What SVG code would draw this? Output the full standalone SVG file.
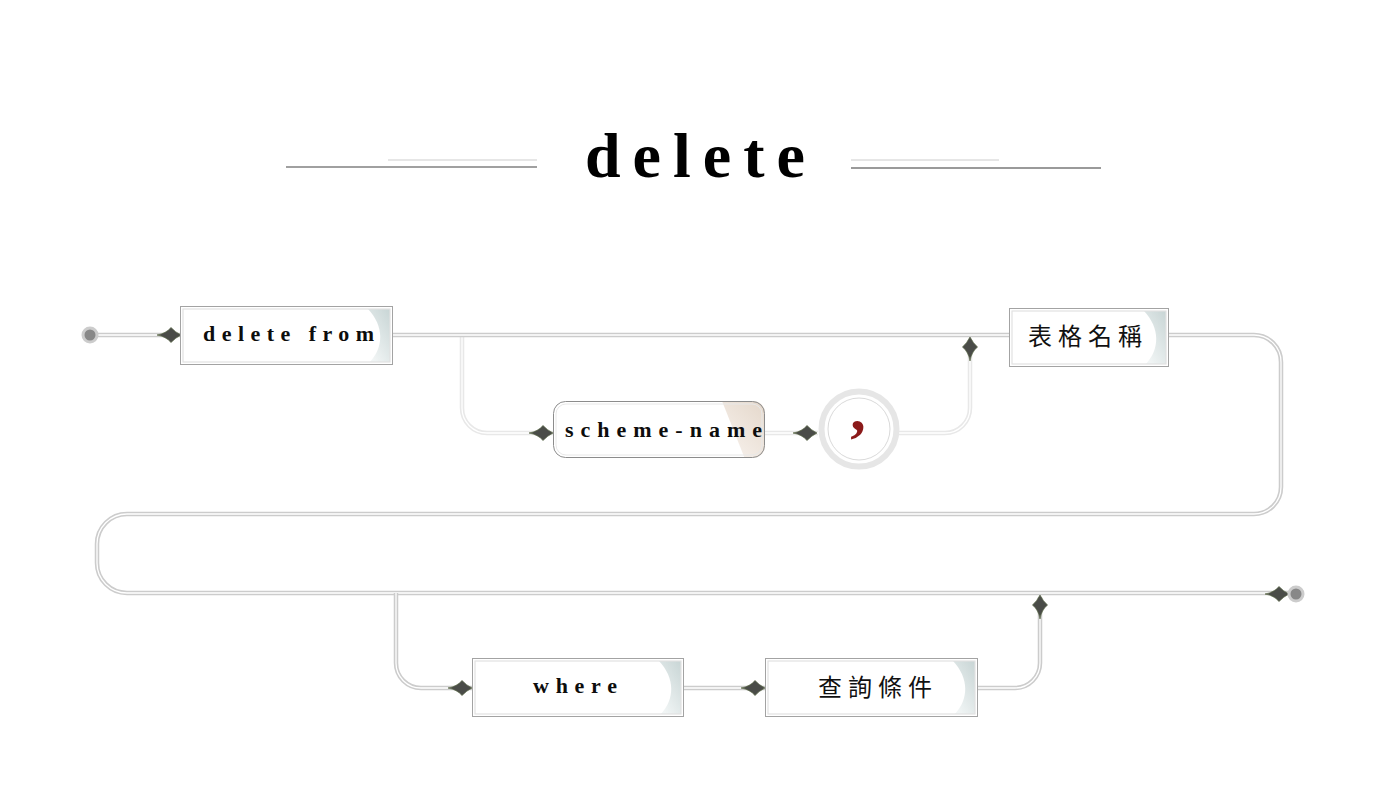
<svg xmlns="http://www.w3.org/2000/svg" xmlns:xlink="http://www.w3.org/1999/xlink" width="1388" height="801" viewBox="0 0 1388 801">
<style>
.trk{fill:none;stroke:#cccccc;stroke-width:4.5}
.trk2{fill:none;stroke:#e8e8e8;stroke-width:4.5}
.trkin{fill:none;stroke:#ffffff;stroke-width:1.3}
.box{fill:#ffffff;stroke:#a3a3a3;stroke-width:1}
.inner{fill:none;stroke:#e2e2e2;stroke-width:1.2}
.lbl{font-family:"Liberation Serif","Times New Roman",serif;font-weight:bold;font-size:22px;fill:#0d0d0d}
.cjk{font-family:"Noto Sans CJK TC","Noto Sans CJK SC",sans-serif;font-size:24px;fill:#111111}
.arr{fill:#4a4c48;stroke:#5c6a48;stroke-width:0.7}
.dot{fill:#888888;stroke:#cccccc;stroke-width:3}
</style>
<defs>
<linearGradient id="gBlue" x1="1" y1="0" x2="0.3" y2="1">
<stop offset="0" stop-color="#c8d5d5"/>
<stop offset="1" stop-color="#f1f5f5"/>
</linearGradient>
<linearGradient id="gBeige" x1="1" y1="0" x2="0.2" y2="1">
<stop offset="0" stop-color="#e4d7ca"/>
<stop offset="1" stop-color="#f7f1ec"/>
</linearGradient>
<path id="arr" d="M-24,0 Q-15,-1.5 -10,-7.5 Q-6,-3 0,0 Q-6,3 -10,7.5 Q-15,1.5 -24,0 Z"/>
<path id="pMain" d="M98,335 H180 M392,335 H1009 M1168,335 H1254 A27,27 0 0 1 1281,362 V487 A27,27 0 0 1 1254,514 H127 A30,30 0 0 0 97,544 V563 A30,30 0 0 0 127,593 H1288"/>
<path id="pUp" d="M462,335 V408 A25,25 0 0 0 487,433 H553 M765,433 H818 M899,433 H945 A25,25 0 0 0 970,408 V340"/>
<path id="pLow" d="M396,593 V663 A25,25 0 0 0 421,688 H472 M683,688 H765 M977,688 H1015 A25,25 0 0 0 1040,663 V597"/>
<clipPath id="cScheme"><rect x="553" y="401" width="212" height="57" rx="12"/></clipPath>
</defs>

<g id="title">
<line x1="286" y1="167" x2="537" y2="167" stroke="#a0a0a0" stroke-width="2"/>
<line x1="388" y1="160" x2="537" y2="160" stroke="#e6e6e6" stroke-width="2"/>
<line x1="851" y1="168" x2="1101" y2="168" stroke="#9a9a9a" stroke-width="2"/>
<line x1="851" y1="160" x2="999" y2="160" stroke="#cccccc" stroke-width="1"/>
<text x="585" y="177" font-family="Liberation Serif, Times New Roman, serif" font-weight="bold" font-size="64" fill="#000000" textLength="220" lengthAdjust="spacing">delete</text>
</g>

<g id="connectors">
<use xlink:href="#pUp" class="trk2"/>
<use xlink:href="#pUp" class="trkin"/>
<use xlink:href="#pMain" class="trk"/>
<use xlink:href="#pMain" class="trkin"/>
<use xlink:href="#pLow" class="trk"/>
<use xlink:href="#pLow" class="trkin"/>
<use xlink:href="#arr" class="arr" transform="translate(181,335)"/>
<use xlink:href="#arr" class="arr" transform="translate(553,433)"/>
<use xlink:href="#arr" class="arr" transform="translate(817,433)"/>
<use xlink:href="#arr" class="arr" transform="translate(970,337) rotate(-90)"/>
<use xlink:href="#arr" class="arr" transform="translate(472,688)"/>
<use xlink:href="#arr" class="arr" transform="translate(765,688)"/>
<use xlink:href="#arr" class="arr" transform="translate(1040,595) rotate(-90)"/>
<use xlink:href="#arr" class="arr" transform="translate(1289,594)"/>
</g>

<g id="start"><circle class="dot" cx="90" cy="335" r="7"/></g>
<g id="end"><circle class="dot" cx="1296" cy="594" r="7"/></g>

<g id="n-delete-from">
<rect class="box" x="180.5" y="306.5" width="212" height="58"/>
<path d="M368,309 C384,326 384,347 370,362 L390,362 L390,309 Z" fill="url(#gBlue)"/>
<rect class="inner" x="183" y="309" width="207" height="53"/>
<text class="lbl" x="203" y="341" textLength="171" lengthAdjust="spacing">delete from</text>
</g>

<g id="n-table-name">
<rect class="box" x="1009.5" y="308.5" width="159" height="58"/>
<path d="M1144,311 C1160,328 1160,349 1146,364 L1166,364 L1166,311 Z" fill="url(#gBlue)"/>
<rect class="inner" x="1012" y="311" width="154" height="53"/>
<text class="cjk" x="1028" y="345" textLength="114" lengthAdjust="spacing">表格名稱</text>
</g>

<g id="n-scheme-name">
<rect x="553.5" y="401.5" width="211" height="56" rx="12" fill="#ffffff"/>
<polygon points="722,401 766,401 766,459 745,459" fill="url(#gBeige)" clip-path="url(#cScheme)"/>
<rect x="553.5" y="401.5" width="211" height="56" rx="12" fill="none" stroke="#8c8c8c" stroke-width="1"/>
<rect x="556" y="404" width="206" height="51" rx="10" fill="none" stroke="#e8e8e8" stroke-width="1"/>
<text class="lbl" x="565" y="437" textLength="197" lengthAdjust="spacing">scheme-name</text>
</g>

<g id="n-comma">
<circle cx="859" cy="429" r="37.5" fill="#ffffff" stroke="#e6e6e6" stroke-width="6"/>
<circle cx="859" cy="429" r="31" fill="none" stroke="#cfcfcf" stroke-width="0.8"/>
<text x="858" y="430" text-anchor="middle" font-family="Liberation Serif, Times New Roman, serif" font-weight="bold" font-size="62" fill="#8b1a1a">,</text>
</g>

<g id="n-where">
<rect class="box" x="472.5" y="658.5" width="211" height="58"/>
<path d="M659,661 C675,678 675,699 661,714 L681,714 L681,661 Z" fill="url(#gBlue)"/>
<rect class="inner" x="475" y="661" width="206" height="53"/>
<text class="lbl" x="533" y="693" textLength="84" lengthAdjust="spacing">where</text>
</g>

<g id="n-condition">
<rect class="box" x="765.5" y="658.5" width="212" height="58"/>
<path d="M953,661 C969,678 969,699 955,714 L975,714 L975,661 Z" fill="url(#gBlue)"/>
<rect class="inner" x="768" y="661" width="207" height="53"/>
<text class="cjk" x="818" y="696" textLength="114" lengthAdjust="spacing">查詢條件</text>
</g>
</svg>
